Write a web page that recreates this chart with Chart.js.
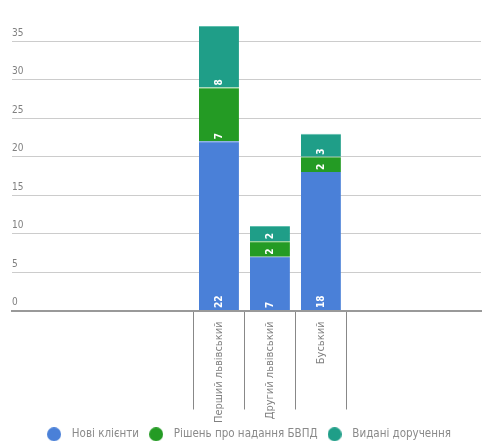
<!DOCTYPE html>
<html>
<head>
<meta charset="utf-8">
<script src="https://cdn.jsdelivr.net/npm/chart.js@4.4.0/dist/chart.umd.min.js"></script>
<style>
  body { margin: 0; background: #fff; }
  #wrap { width: 494px; height: 448px; }
</style>
</head>
<body>
<div id="wrap"><canvas id="chart"></canvas></div>
<script>
// districts on the x axis
const DISTRICTS = ["Перший львівський", "Другий львівський", "Буський"];
// series
const NEW_CLIENTS = [22, 7, 18];
const BVPD_DECISIONS = [7, 2, 2];
const ASSIGNMENTS = [8, 2, 3];
// y axis
const Y_MAX = 37;
const Y_STEP = 5;

const FONT = '"DejaVu Sans Condensed", "DejaVu Sans", sans-serif';

//round legend markers with a bit of room before the text
function dot(color) {
    const c = document.createElement('canvas');
    c.width = 14; c.height = 14;
    const g = c.getContext('2d');
    g.fillStyle = color;
    g.beginPath();
    g.arc(7, 7, 7, 0, Math.PI * 2);
    g.fill();
    return c;
}

//white numbers at the foot of every segment
const segmentLabels = {
    id: 'segmentLabels',
    afterDatasetsDraw(chart) {
        const ctx = chart.ctx;
        ctx.save();
        ctx.fillStyle = '#fff';
        ctx.font = 'bold 10px ' + FONT;
        ctx.textAlign = 'left';
        ctx.textBaseline = 'middle';
        chart.data.datasets.forEach((ds, di) => {
            chart.getDatasetMeta(di).data.forEach((bar, i) => {
                ctx.save();
                ctx.translate(bar.x, bar.base - 2);
                ctx.rotate(-Math.PI / 2);
                ctx.fillText(String(ds.data[i]), 0, 0);
                ctx.restore();
            });
        });
        ctx.restore();
    }
};

const COLORS = ['#4a80d8', '#249b24', '#1f9e88'];
const EDGES = ['#4a80d8', '#5cb85c', '#5fbfae'];

new Chart(document.getElementById('chart'), {
    type: 'bar',
    data: {
        labels: DISTRICTS.map((_, i) => i),
        datasets: [
            { label: 'Нові клієнти', data: NEW_CLIENTS, backgroundColor: COLORS[0], borderColor: EDGES[0], pointStyle: dot(COLORS[0]) },
            { label: 'Рішень про надання БВПД', data: BVPD_DECISIONS, backgroundColor: COLORS[1], borderColor: EDGES[1], pointStyle: dot(COLORS[1]) },
            { label: 'Видані доручення', data: ASSIGNMENTS, backgroundColor: COLORS[2], borderColor: EDGES[2], pointStyle: dot(COLORS[2]) }
        ]
    },
    options: {
        responsive: true,
        maintainAspectRatio: false,
        animation: false,
        categoryPercentage: 1,
        barPercentage: 0.784,
        borderWidth: { top: 1, left: 0, right: 0, bottom: 0 },
        layout: { padding: { top: 26, left: 12, right: 13, bottom: -2 } },
        plugins: {
            tooltip: { enabled: false },
            legend: {
                position: 'bottom',
                labels: {
                    usePointStyle: true,
                    pointStyleWidth: 24,
                    padding: 5,
                    color: '#8a8a8a',
                    font: { family: FONT, size: 11.5 }
                }
            }
        },
        scales: {
            x: {
                type: 'linear',
                min: -4.06,
                max: 5.14,
                offset: false,
                stacked: true,
                afterBuildTicks: s => { s.ticks = DISTRICTS.map((_, i) => ({ value: i })); },
                afterFit: s => { s.height = 113; },
                ticks: {
                    autoSkip: false,
                    minRotation: 90,
                    maxRotation: 90,
                    padding: -88,
                    color: '#808080',
                    font: { family: FONT, size: 11 },
                    callback: v => DISTRICTS[v]
                },
                grid: { offset: true, drawOnChartArea: false, drawTicks: true, tickLength: 99, color: '#888' },
                border: { display: true, color: '#999', width: 2 }
            },
            y: {
                stacked: true,
                min: 0,
                max: Y_MAX,
                ticks: {
                    stepSize: Y_STEP,
                    includeBounds: false,
                    mirror: true,
                    padding: 0,
                    labelOffset: -8,
                    color: '#808080',
                    font: { family: FONT, size: 10 }
                },
                grid: { color: '#ccc', drawTicks: false },
                border: { display: false }
            }
        }
    },
    plugins: [segmentLabels]
});
</script>
</body>
</html>
